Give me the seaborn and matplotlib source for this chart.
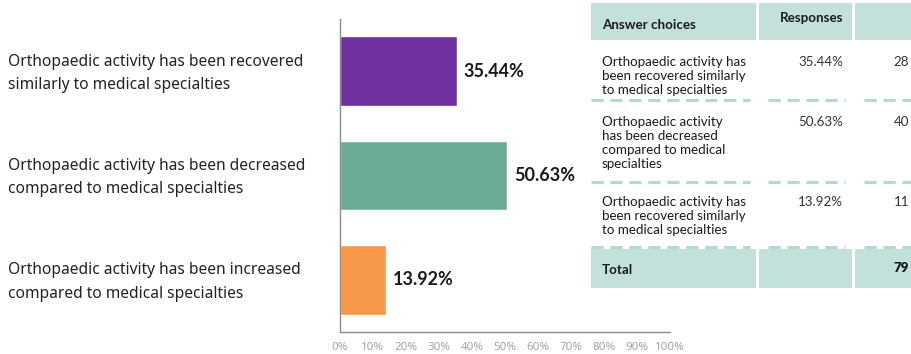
import matplotlib
matplotlib.use("Agg")
import matplotlib.pyplot as plt
import matplotlib.transforms as mtransforms
from matplotlib.patches import Rectangle
import seaborn as sns
import pandas as pd

# ---- data -------------------------------------------------------------
categories = [
    "Orthopaedic activity has been recovered\nsimilarly to medical specialties",
    "Orthopaedic activity has been decreased\ncompared to medical specialties",
    "Orthopaedic activity has been increased\ncompared to medical specialties",
]
percentages = [35.44, 50.63, 13.92]
bar_colors = ["#7030a0", "#6aab94", "#f7974a"]

table_choices = [
    "Orthopaedic activity has\nbeen recovered similarly\nto medical specialties",
    "Orthopaedic activity\nhas been decreased\ncompared to medical\nspecialties",
    "Orthopaedic activity has\nbeen recovered similarly\nto medical specialties",
]
table_counts = [28, 40, 11]
total_count = 79
x_ticks = list(range(0, 101, 10))

# ---- figure -----------------------------------------------------------
sns.set_theme(style="white")
plt.rcParams["font.family"] = ["Noto Sans", "DejaVu Sans"]

W, H = 911, 354
fig = plt.figure(figsize=(W / 100, H / 100), dpi=100)
fig.patch.set_facecolor("white")

ax = fig.add_axes([340 / W, 1 - 332 / H, 330 / W, (332 - 19) / H])
ax.set_facecolor("none")
df = pd.DataFrame({"choice": categories, "pct": percentages})
sns.barplot(data=df, x="pct", y="choice", hue="choice", palette=bar_colors,
            orient="h", width=0.67, saturation=1, legend=False, ax=ax)

ax.set_xlim(0, 100)
ax.set_ylim(len(categories) - 0.5, -0.5)
ax.set_xlabel("")
ax.set_ylabel("")
for side in ("top", "right"):
    ax.spines[side].set_visible(False)
for side in ("left", "bottom"):
    ax.spines[side].set_color("#8c8c8c")
    ax.spines[side].set_linewidth(1.0)

ax.set_xticks(x_ticks)
ax.set_xticklabels([f"{t}%" for t in x_ticks], color="#a3a3a3", fontsize=8.3)
ax.tick_params(axis="x", direction="out", length=4, width=1, color="#8c8c8c", pad=3)
ax.set_yticks([i - 0.5 for i in range(len(categories) + 1)])
ax.set_yticklabels([])
ax.tick_params(axis="y", direction="out", length=4, width=1, color="#8c8c8c")

# value labels at bar ends
for i, v in enumerate(percentages):
    ax.annotate(f"{v:.2f}%", xy=(v, i), xytext=(5, 0), textcoords="offset points",
                ha="left", va="center", fontsize=13, fontweight="bold",
                family=["Lato", "DejaVu Sans"], color="#1a1a1a")

# category labels at the left edge of the figure
lab_tr = mtransforms.blended_transform_factory(fig.transFigure, ax.transData)
for i, c in enumerate(categories):
    fig.text(8 / W, i + 0.02, c, transform=lab_tr, ha="left", va="center",
             fontsize=11.2, color="#222222", linespacing=1.6)

# ---- response table (pixel coordinates) --------------------------------
tx = fig.add_axes([0, 0, 1, 1], zorder=-1)
tx.set_xlim(0, W)
tx.set_ylim(H, 0)
tx.axis("off")

bg = "#c4e0da"
dash = "#b3d9d0"
cols = [(591, 756), (759, 852), (855, 915)]
tfont = ["Lato", "DejaVu Sans"]
fs = 9.6

for x0, x1 in cols:
    tx.add_patch(Rectangle((x0, 3), x1 - x0, 37, color=bg, lw=0))
    tx.add_patch(Rectangle((x0, 249), x1 - x0, 39, color=bg, lw=0))

tx.text(602, 25, "Answer choices", fontsize=fs, family=tfont,
        fontweight="bold", color="#1a1a1a", va="center", ha="left")
tx.text(843, 18, "Responses", fontsize=fs, family=tfont,
        fontweight="bold", color="#1a1a1a", va="center", ha="right")

row_tops = [56, 116, 196]
sep_y = [100, 182, 247]
for i, (lab, pct, n) in enumerate(zip(table_choices, percentages, table_counts)):
    y0 = row_tops[i]
    tx.text(602, y0, lab, fontsize=fs, family=tfont, color="#1a1a1a",
            va="top", ha="left", linespacing=1.2)
    tx.text(843, y0, f"{pct:.2f}%", fontsize=fs, family=tfont, color="#333333",
            va="top", ha="right")
    tx.text(909, y0, f"{n}", fontsize=fs, family=tfont, color="#333333",
            va="top", ha="right")

for y in sep_y:
    for d0, d1 in [(591, 750), (768, 845), (864, 915)]:
        tx.plot([d0, d1], [y, y], color=dash, lw=2.2, ls=(0, (4, 2.2)),
                solid_capstyle="butt", dash_capstyle="butt")

tx.text(602, 270, "Total", fontsize=fs, family=tfont, fontweight="bold",
        color="#1a1a1a", va="center", ha="left")
tx.text(909, 268, f"{total_count}", fontsize=fs, family=tfont, fontweight="heavy",
        color="#1a1a1a", va="center", ha="right")

fig.savefig("out.png", dpi=100)
